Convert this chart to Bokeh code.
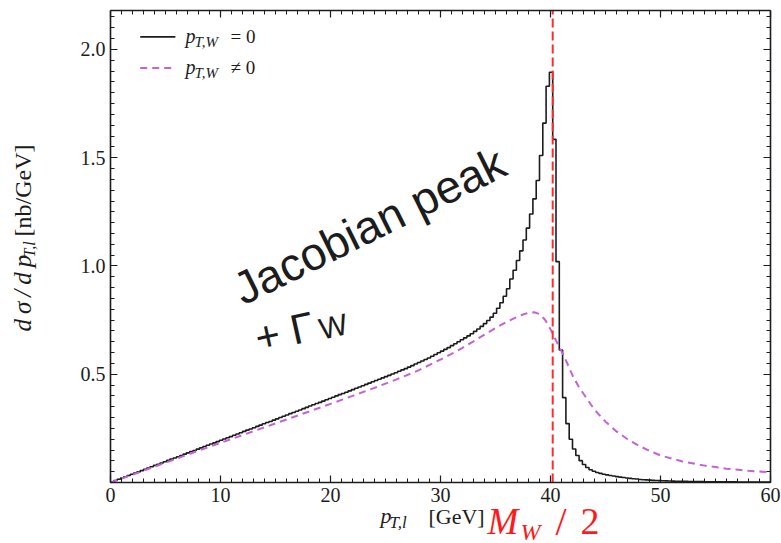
import numpy as np
from bokeh.plotting import figure
from bokeh.models import (Range1d, LinearAxis, FixedTicker, PrintfTickFormatter,
                          CustomLabelingPolicy, Label)
from bokeh.embed import file_html
from bokeh.resources import INLINE

# Lepton transverse-momentum spectrum, W at rest (histogram, 0.3 GeV bins from 0 to 60 GeV)
BIN_WIDTH = 0.3
dsigma_ptw_zero = [
    0.003, 0.009, 0.015, 0.020, 0.026, 0.032, 0.038, 0.044, 0.049, 0.055,
    0.061, 0.067, 0.073, 0.079, 0.084, 0.090, 0.096, 0.102, 0.108, 0.113,
    0.119, 0.125, 0.131, 0.137, 0.143, 0.148, 0.154, 0.160, 0.166, 0.172,
    0.178, 0.183, 0.189, 0.195, 0.201, 0.207, 0.212, 0.218, 0.224, 0.230,
    0.236, 0.242, 0.247, 0.253, 0.259, 0.265, 0.271, 0.277, 0.282, 0.288,
    0.294, 0.300, 0.306, 0.312, 0.318, 0.323, 0.329, 0.335, 0.341, 0.347,
    0.353, 0.359, 0.365, 0.370, 0.376, 0.382, 0.388, 0.394, 0.400, 0.406,
    0.411, 0.417, 0.423, 0.429, 0.435, 0.441, 0.447, 0.453, 0.459, 0.465,
    0.471, 0.477, 0.483, 0.489, 0.495, 0.501, 0.507, 0.514, 0.520, 0.526,
    0.533, 0.540, 0.547, 0.554, 0.561, 0.568, 0.575, 0.583, 0.591, 0.599,
    0.607, 0.615, 0.623, 0.632, 0.641, 0.650, 0.659, 0.668, 0.677, 0.687,
    0.698, 0.709, 0.721, 0.734, 0.748, 0.764, 0.782, 0.805, 0.830, 0.860,
    0.895, 0.940, 0.980, 1.025, 1.070, 1.120, 1.175, 1.240, 1.310, 1.395,
    1.510, 1.660, 1.830, 1.895, 1.585, 1.020, 0.612, 0.392, 0.272, 0.200,
    0.155, 0.125, 0.101, 0.083, 0.069, 0.059, 0.052, 0.046, 0.042, 0.038,
    0.035, 0.032, 0.030, 0.027, 0.025, 0.023, 0.021, 0.019, 0.017, 0.016,
    0.014, 0.013, 0.012, 0.011, 0.010, 0.009, 0.0085, 0.008, 0.0075, 0.007,
    0.0065, 0.006, 0.0057, 0.0054, 0.0051, 0.0048, 0.0045, 0.0043, 0.0041, 0.0039,
    0.0037, 0.0035, 0.0034, 0.0033, 0.0032, 0.0031, 0.0030, 0.0029, 0.0028, 0.0027,
    0.0026, 0.0025, 0.0024, 0.0023, 0.0022, 0.0022, 0.0021, 0.0021, 0.0020, 0.0020,
]

# Same spectrum with W transverse momentum switched on
pt_ptw_nonzero = [0, 2, 4, 6, 8, 10, 12, 14, 16, 18, 20, 22, 24, 26, 28, 30, 31, 32,
                  33, 34, 35, 36, 37, 37.5, 38, 38.5, 39, 39.5, 40, 40.5, 41, 41.5,
                  42, 42.5, 43, 44, 45, 46, 47, 48, 49, 50, 52, 54, 56, 58, 60]
dsigma_ptw_nonzero = [0, 0.036, 0.073, 0.110, 0.147, 0.183, 0.219, 0.255, 0.291, 0.327,
                      0.363, 0.400, 0.437, 0.476, 0.518, 0.568, 0.594, 0.622, 0.652,
                      0.683, 0.713, 0.742, 0.766, 0.776, 0.784, 0.786, 0.778, 0.752,
                      0.708, 0.656, 0.606, 0.553, 0.495, 0.448, 0.410, 0.336, 0.281,
                      0.236, 0.200, 0.171, 0.146, 0.125, 0.097, 0.078, 0.064, 0.054,
                      0.047]

M_W = 80.4
X_MIN, X_MAX = 0, 60
Y_MIN, Y_MAX = 0, 2.18
x_ticks = [0, 10, 20, 30, 40, 50, 60]
y_ticks = [0.5, 1.0, 1.5, 2.0]
x_minor = list(range(0, 61))
y_minor = [round(0.05 * i, 2) for i in range(0, 44)]

SERIF = "Liberation Serif"
INK = "#1c1c1c"
MAGENTA = "#c462d6"
RED = "#ff1a1a"

W, H = 781, 543
# the plotting box sits at pixels 110..770 horizontally and 10..482 vertically;
# the frame covers the whole canvas so titles can sit around the box
BOX_L, BOX_R, BOX_T, BOX_B = 110, 770, 10, 482
sx_per = (BOX_R - BOX_L) / (X_MAX - X_MIN)
sy_per = (BOX_B - BOX_T) / (Y_MAX - Y_MIN)

p = figure(width=W, height=H, output_backend="svg", toolbar_location=None,
           x_range=Range1d(X_MIN - BOX_L / sx_per, X_MAX + (W - BOX_R) / sx_per),
           y_range=Range1d(Y_MIN - (H - BOX_B) / sy_per, Y_MAX + BOX_T / sy_per),
           x_axis_location=None, y_axis_location=None,
           min_border=0)
p.background_fill_color = "white"
p.border_fill_color = "white"
p.outline_line_color = None
p.xgrid.visible = False
p.ygrid.visible = False

no_labels = CustomLabelingPolicy(code="return new indices.constructor(indices.size)")


def make_axis(ticks, minor, fmt, loc, bounds, show_labels):
    ax = LinearAxis(ticker=FixedTicker(ticks=ticks, minor_ticks=minor),
                    fixed_location=loc, bounds=bounds)
    ax.formatter = PrintfTickFormatter(format=fmt)
    ax.major_tick_in = 7
    ax.major_tick_out = 0
    ax.minor_tick_in = 4
    ax.minor_tick_out = 0
    ax.axis_line_color = INK
    ax.axis_line_width = 1.6
    ax.major_tick_line_color = INK
    ax.major_tick_line_width = 1.2
    ax.minor_tick_line_color = INK
    ax.minor_tick_line_width = 1
    ax.major_label_text_font = SERIF
    ax.major_label_text_font_size = "20px"
    ax.major_label_text_color = INK
    ax.major_label_standoff = 5
    if not show_labels:
        ax.major_label_policy = no_labels
    return ax


p.add_layout(make_axis(x_ticks, x_minor, "%d", Y_MIN, (X_MIN, X_MAX), True), "below")
p.add_layout(make_axis(x_ticks, x_minor, "%d", Y_MAX, (X_MIN, X_MAX), False), "above")
p.add_layout(make_axis(y_ticks, y_minor, "%.1f", X_MIN, (Y_MIN, Y_MAX), True), "left")
p.add_layout(make_axis(y_ticks, y_minor, "%.1f", X_MAX, (Y_MIN, Y_MAX), False), "right")

# histogram drawn as steps from the bin lower edges
edges = [round(BIN_WIDTH * i, 2) for i in range(len(dsigma_ptw_zero))] + [60.0]
heights = dsigma_ptw_zero + [dsigma_ptw_zero[-1]]
p.step(edges, heights, mode="after", line_color=INK, line_width=1.6)

p.line(pt_ptw_nonzero, dsigma_ptw_nonzero, line_color=MAGENTA, line_width=2,
       line_dash="7 5")

# M_W / 2 marker
p.line([M_W / 2, M_W / 2], [Y_MIN, Y_MAX], line_color="#ff2b2b", line_width=2,
       line_dash="9 4")

# legend keys
p.line([2.7, 5.9], [2.058, 2.058], line_color=INK, line_width=1.6)
p.line([2.7, 5.9], [1.915, 1.915], line_color=MAGENTA, line_width=2, line_dash="7 5")


def put(text, px, py, size, color=INK, font=SERIF, style="normal", angle=0.0,
        align="left", baseline="middle"):
    p.add_layout(Label(x=px, y=H - py, x_units="screen", y_units="screen", text=text,
                       text_font=font, text_font_size=f"{size}px",
                       text_font_style=style, text_color=color, angle=angle,
                       text_align=align, text_baseline=baseline))


# legend texts
put("p", 185, 35, 20, style="italic")
put("T,W", 194, 41, 15, style="italic")
put("= 0", 230, 36, 19)
put("p", 185, 66, 20, style="italic")
put("T,W", 194, 72, 15, style="italic")
put("\u2260 0", 230, 67, 19)

# x-axis title
put("p", 380, 515, 22, style="italic")
put("T,l", 389, 522, 17, style="italic")
put("[GeV]", 428, 516, 22)

# y-axis title (reads upward)
put("d\u2009\u03c3\u2009/\u2009d\u2009p", 22, 331, 25, style="italic", angle=np.pi / 2)
put("T,l", 29, 257, 16, style="italic", angle=np.pi / 2)
put("[nb/GeV]", 22, 236, 24, angle=np.pi / 2)

# half the W mass label
put("M", 487, 521, 37, color=RED, style="italic")
put("W", 520, 531, 24, color=RED, style="italic")
put("/", 555, 521, 40, color=RED)
put("2", 580, 521, 38, color=RED)

# annotation
put("Jacobian peak", 236, 291, 46, font="Liberation Sans", angle=0.46,
    baseline="alphabetic")
put("+ \u0393", 255, 338, 42, font="Liberation Sans", angle=0.22,
    baseline="alphabetic")
put("W", 319, 329, 30, font="Liberation Sans", angle=0.22,
    baseline="alphabetic")

open("out.html", "w").write(file_html(p, INLINE))
